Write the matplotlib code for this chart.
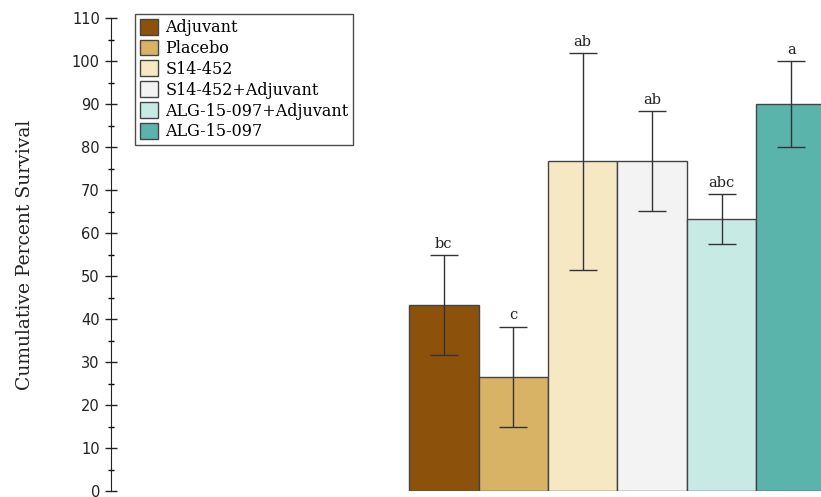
import matplotlib.pyplot as plt
from matplotlib.ticker import MultipleLocator

groups = ['Adjuvant', 'Placebo', 'S14-452', 'S14-452+Adjuvant',
          'ALG-15-097+Adjuvant', 'ALG-15-097']
survival = [43.3, 26.6, 76.7, 76.7, 63.3, 90.0]
errors = [11.6, 11.6, 25.2, 11.6, 5.8, 10.0]
letters = ['bc', 'c', 'ab', 'ab', 'abc', 'a']
colors = ['#8c510a', '#d8b365', '#f6e8c3', '#f3f3f3', '#c7eae5', '#5ab4ac']

W, H = 821, 497
fig = plt.figure(figsize=(W / 100, H / 100), dpi=100)
ax = fig.add_axes([111 / W, 1 - 491 / H, 1 - 111 / W, (491 - 18) / H])

serif = 'DejaVu Serif'
for i, (v, e, c, g) in enumerate(zip(survival, errors, colors, groups)):
    ax.bar(i, v, width=1.0, color=c, edgecolor='#444444', linewidth=1.0, label=g)
    ax.errorbar(i, v, yerr=e, fmt='none', ecolor='#333333', elinewidth=1.0,
                capsize=10, capthick=1.0)
    ax.text(i, v + e + 1.0, letters[i], ha='center', va='bottom',
            fontsize=10.5, family=serif, color='#222222')

ax.set_xlim(-4.79, 5.43)
ax.set_ylim(0, 110)
ax.yaxis.set_major_locator(MultipleLocator(10))
ax.yaxis.set_minor_locator(MultipleLocator(5))
ax.tick_params(axis='y', which='major', direction='inout', length=9, width=1,
               labelsize=10.5, colors='#222222')
ax.tick_params(axis='y', which='minor', direction='inout', length=5, width=1)
ax.set_xticks([])
for s in ['top', 'right', 'bottom']:
    ax.spines[s].set_visible(False)
ax.spines['left'].set_color('#222222')

ax.set_ylabel('Cumulative Percent Survival', family=serif, fontsize=13.5,
              color='#222222', labelpad=27)

leg = ax.legend(loc='upper left', bbox_to_anchor=(24 / 710, 1 + 4 / 473),
                prop={'family': serif, 'size': 11.5}, frameon=True,
                fancybox=False, borderpad=0.3, labelspacing=0.22,
                handlelength=1.15, handleheight=1.15, handletextpad=0.45,
                borderaxespad=0)
leg.get_frame().set_edgecolor('#222222')
leg.get_frame().set_linewidth(1.0)

fig.savefig('out.png', dpi=100)
